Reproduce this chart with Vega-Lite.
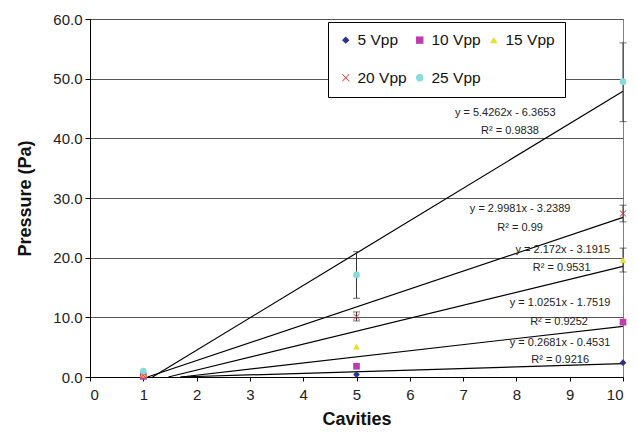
{
  "$schema": "https://vega.github.io/schema/vega-lite/v6.json",
  "autosize": "none",
  "width": 533,
  "height": 358,
  "padding": {"left": 90, "top": 19, "right": 15, "bottom": 58},
  "background": "white",
  "config": {
    "font": "Liberation Sans",
    "view": {"stroke": "#808080", "strokeWidth": 1},
    "axis": {"labelFont": "Liberation Sans", "titleFont": "Liberation Sans", "labelColor": "#222", "titleColor": "#111", "domainColor": "#000", "tickColor": "#000"},
    "legend": {"title": null, "orient": "none", "legendX": 238, "legendY": 3, "columns": 3, "direction": "horizontal", "labelFontSize": 15.5, "labelFont": "Liberation Sans", "labelColor": "#111", "symbolSize": 55, "symbolStrokeWidth": 0, "columnPadding": 5, "rowPadding": 21, "padding": 10, "strokeColor": "#000", "fillColor": "#fff", "labelOffset": 4}
  },
  "datasets": {
    "pts": [
      {"series": "5 Vpp", "cav": 1, "p": 0.1},
      {"series": "10 Vpp", "cav": 1, "p": 0.1},
      {"series": "15 Vpp", "cav": 1, "p": 0.4},
      {"series": "20 Vpp", "cav": 1, "p": 0.3},
      {"series": "25 Vpp", "cav": 1, "p": 1.0},
      {"series": "5 Vpp", "cav": 5, "p": 0.4},
      {"series": "10 Vpp", "cav": 5, "p": 1.8},
      {"series": "15 Vpp", "cav": 5, "p": 5.1},
      {"series": "20 Vpp", "cav": 5, "p": 10.1},
      {"series": "25 Vpp", "cav": 5, "p": 17.1},
      {"series": "5 Vpp", "cav": 10, "p": 2.4},
      {"series": "10 Vpp", "cav": 10, "p": 9.2},
      {"series": "15 Vpp", "cav": 10, "p": 19.6},
      {"series": "20 Vpp", "cav": 10, "p": 27.4},
      {"series": "25 Vpp", "cav": 10, "p": 49.5}
    ],
    "err": [
      {"series": "25 Vpp", "cav": 5, "lo": 13.2, "hi": 21.0},
      {"series": "20 Vpp", "cav": 5, "lo": 9.4, "hi": 10.9},
      {"series": "25 Vpp", "cav": 10, "lo": 42.8, "hi": 56.0},
      {"series": "20 Vpp", "cav": 10, "lo": 26.0, "hi": 28.8},
      {"series": "15 Vpp", "cav": 10, "lo": 17.6, "hi": 21.6}
    ],
    "trend": [
      {"series": "5 Vpp", "cav": 1.69, "p": 0},
      {"series": "5 Vpp", "cav": 10, "p": 2.228},
      {"series": "10 Vpp", "cav": 1.709, "p": 0},
      {"series": "10 Vpp", "cav": 10, "p": 8.499},
      {"series": "15 Vpp", "cav": 1.469, "p": 0},
      {"series": "15 Vpp", "cav": 10, "p": 18.529},
      {"series": "20 Vpp", "cav": 1.08, "p": 0},
      {"series": "20 Vpp", "cav": 10, "p": 26.742},
      {"series": "25 Vpp", "cav": 1.173, "p": 0},
      {"series": "25 Vpp", "cav": 10, "p": 47.897}
    ],
    "labels": [
      {"t": "y = 5.4262x - 6.3653", "cav": 7.79, "p": 44.2},
      {"t": "R² = 0.9838", "cav": 7.88, "p": 41.2},
      {"t": "y = 2.9981x - 3.2389", "cav": 8.07, "p": 28.2},
      {"t": "R² = 0.99", "cav": 8.07, "p": 25.0},
      {"t": "y = 2.172x - 3.1915", "cav": 8.87, "p": 21.3},
      {"t": "R² = 0.9531", "cav": 8.85, "p": 18.3},
      {"t": "y = 1.0251x - 1.7519", "cav": 8.82, "p": 12.4},
      {"t": "R² = 0.9252", "cav": 8.8, "p": 9.2},
      {"t": "y = 0.2681x - 0.4531", "cav": 8.82, "p": 5.7},
      {"t": "R² = 0.9216", "cav": 8.82, "p": 2.85}
    ]
  },
  "layer": [
    {
      "data": {"name": "trend"},
      "mark": {"type": "line", "color": "#000", "strokeWidth": 1.2},
      "encoding": {
        "x": {"field": "cav", "type": "quantitative", "title": "Cavities", "scale": {"domain": [0, 10], "nice": false}, "axis": {"title": "Cavities", "values": [0,1,2,3,4,5,6,7,8,9,10], "format": "d", "labelFontSize": 15, "titleFontSize": 18, "titleFontWeight": "bold", "grid": false, "tickSize": 4, "labelPadding": 6, "titlePadding": 8}},
        "y": {"field": "p", "type": "quantitative", "title": "Pressure (Pa)", "scale": {"domain": [0, 60], "nice": false}, "axis": {"title": "Pressure (Pa)", "values": [0,10,20,30,40,50,60], "format": ".1f", "labelFontSize": 15, "titleFontSize": 18, "titleFontWeight": "bold", "grid": true, "gridColor": "#555", "tickSize": 5, "labelPadding": 3, "titlePadding": 18}},
        "detail": {"field": "series"}
      }
    },
    {
      "data": {"name": "err"},
      "mark": {"type": "errorbar", "ticks": {"size": 7, "color": "#333"}, "rule": {"color": "#333"}},
      "encoding": {
        "x": {"field": "cav", "type": "quantitative", "title": "Cavities"},
        "y": {"field": "lo", "type": "quantitative", "title": "Pressure (Pa)"},
        "y2": {"field": "hi"}
      }
    },
    {
      "data": {"name": "pts"},
      "mark": {"type": "point", "filled": true, "size": 45, "opacity": 1},
      "encoding": {
        "x": {"field": "cav", "type": "quantitative", "title": "Cavities"},
        "y": {"field": "p", "type": "quantitative", "title": "Pressure (Pa)"},
        "color": {"field": "series", "type": "nominal", "scale": {"domain": ["5 Vpp", "10 Vpp", "15 Vpp", "20 Vpp", "25 Vpp"], "range": ["#2e2e8c", "#c03cae", "#e8e020", "#e03028", "#86dcd8"]}},
        "shape": {"field": "series", "type": "nominal", "scale": {"domain": ["5 Vpp", "10 Vpp", "15 Vpp", "20 Vpp", "25 Vpp"], "range": ["diamond", "square", "triangle-up", "M-0.85,-1L0,-0.15L0.85,-1L1,-0.85L0.15,0L1,0.85L0.85,1L0,0.15L-0.85,1L-1,0.85L-0.15,0L-1,-0.85Z", "circle"]}}
      }
    },
    {
      "data": {"name": "labels"},
      "mark": {"type": "text", "fontSize": 11, "font": "Liberation Sans", "color": "#222", "align": "center", "baseline": "middle"},
      "encoding": {
        "x": {"field": "cav", "type": "quantitative", "title": "Cavities"},
        "y": {"field": "p", "type": "quantitative", "title": "Pressure (Pa)"},
        "text": {"field": "t"}
      }
    }
  ]
}
